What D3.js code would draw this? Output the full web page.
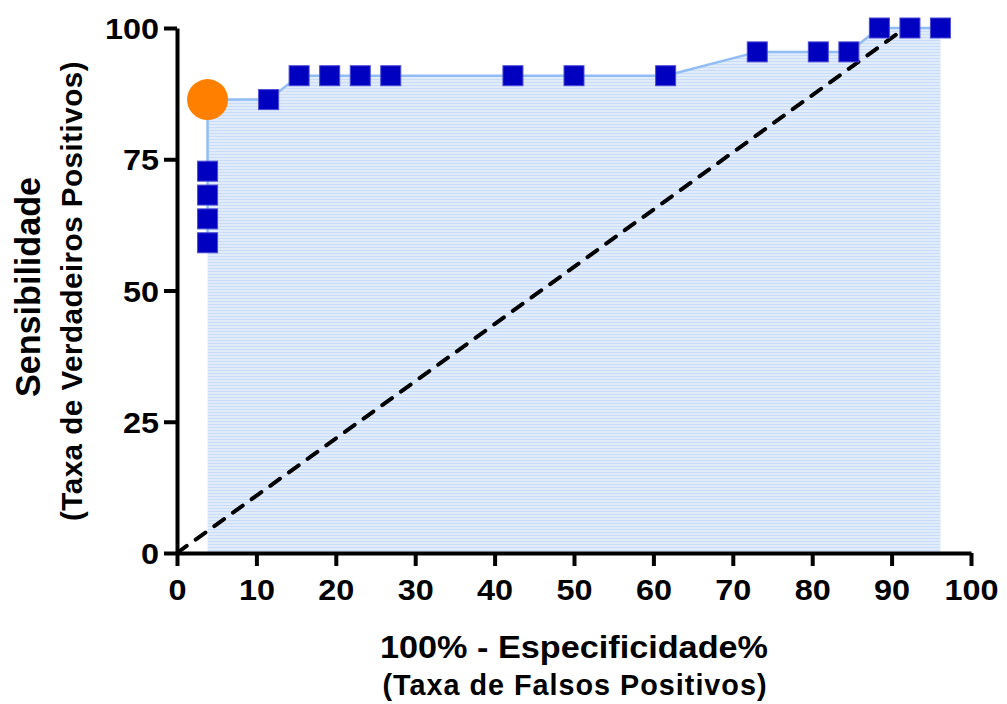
<!DOCTYPE html>
<html>
<head>
<meta charset="utf-8">
<script src="https://cdn.jsdelivr.net/npm/d3@7"></script>
<style>
  body { margin: 0; background: #fff; }
  text { font-family: "Liberation Sans", Arial, sans-serif; font-weight: bold; }
</style>
</head>
<body>
<div id="roc"></div>
<script>
// ROC points: 100% - specificity (x) and sensitivity (y)
var fpr = [3.85, 3.85, 3.85, 3.85, 3.85, 11.54, 15.38, 19.23, 23.08, 26.92, 42.31, 50, 61.54, 73.08, 80.77, 84.62, 88.46, 92.31, 96.15];
var tpr = [59.09, 63.64, 68.18, 72.73, 86.36, 86.36, 90.91, 90.91, 90.91, 90.91, 90.91, 90.91, 90.91, 95.45, 95.45, 95.45, 100, 100, 100];
var cutoffIndex = 4;   // highlighted point (orange)
var refLine = [[0, 0], [93.3, 101.7]];
var xTicks = [0, 10, 20, 30, 40, 50, 60, 70, 80, 90, 100];
var yTicks = [0, 25, 50, 75, 100];

var margin = { top: 28, right: 36, bottom: 151, left: 177 };
var width = 1007 - margin.left - margin.right;
var height = 704 - margin.top - margin.bottom;

var svg = d3.select("#roc")
    .append("svg")
        .attr("width", 1007)
        .attr("height", 704);

var defs = svg.append("defs");
var pat = defs.append("pattern")
    .attr("id", "stripes")
    .attr("patternUnits", "userSpaceOnUse")
    .attr("width", 8)
    .attr("height", 3);
pat.append("rect").attr("width", 8).attr("height", 3).attr("fill", "#e0ebfc");
pat.append("rect").attr("width", 8).attr("height", 1).attr("fill", "#cbdcf7");

var g = svg.append("g")
    .attr("transform", "translate(" + margin.left + "," + margin.top + ")");

var xScale = d3.scaleLinear().domain([0, 100]).range([0, width]);
var yScale = d3.scaleLinear().domain([0, 100]).range([height, 0]);

var dataset = [];
for (i = 0; i < fpr.length; i++) {
    dataset.push({ "x": fpr[i], "y": tpr[i] });
}

// area under curve
var area = d3.area()
    .x(function (d) { return xScale(d.x); })
    .y0(yScale(0))
    .y1(function (d) { return yScale(d.y); });

var areaData = [{ x: fpr[0], y: 0 }].concat(dataset);
g.append("path")
    .datum(areaData)
    .attr("d", area)
    .attr("fill", "url(#stripes)");

var line = d3.line()
    .x(function (d) { return xScale(d.x); })
    .y(function (d) { return yScale(d.y); });

g.append("path")
    .datum(dataset)
    .attr("d", line)
    .attr("fill", "none")
    .attr("stroke", "#90bdf5")
    .attr("stroke-width", 2.5);

// reference diagonal
g.append("path")
    .datum(refLine)
    .attr("d", d3.line().x(function (d) { return xScale(d[0]); }).y(function (d) { return yScale(d[1]); }))
    .attr("fill", "none")
    .attr("stroke", "#000")
    .attr("stroke-width", 4)
    .attr("stroke-linecap", "round")
    .attr("stroke-dasharray", "12,11");

// axes
var xAxis = g.append("g")
    .attr("transform", "translate(0," + height + ")")
    .call(d3.axisBottom(xScale).tickValues(xTicks).tickSize(13).tickPadding(13).tickSizeOuter(0));
var yAxis = g.append("g")
    .call(d3.axisLeft(yScale).tickValues(yTicks).tickSize(13).tickPadding(5).tickSizeOuter(0));

[xAxis, yAxis].forEach(function (a) {
    a.select(".domain").attr("stroke", "#000").attr("stroke-width", 4);
    a.selectAll(".tick line").attr("stroke", "#000").attr("stroke-width", 4);
    a.selectAll(".tick text")
        .attr("fill", "#000")
        .style("font-size", "30px")
        .style("font-family", "'Liberation Sans', Arial, sans-serif")
        .style("font-weight", "bold")
        .each(function () {
            var w = this.getComputedTextLength();
            d3.select(this).attr("textLength", w * 1.08).attr("lengthAdjust", "spacingAndGlyphs");
        });
});
yAxis.selectAll(".tick text").attr("dy", "0.35em");

// points
g.selectAll(".pt")
    .data(dataset.filter(function (d, i) { return i !== cutoffIndex; }))
    .enter()
    .append("rect")
        .attr("class", "pt")
        .attr("x", function (d) { return xScale(d.x) - 10; })
        .attr("y", function (d) { return yScale(d.y) - 10; })
        .attr("width", 20)
        .attr("height", 20)
        .attr("fill", "#0000c0")
        .attr("stroke", "#4a4ad6")
        .attr("stroke-width", 1);

g.append("circle")
    .attr("cx", xScale(dataset[cutoffIndex].x))
    .attr("cy", yScale(dataset[cutoffIndex].y))
    .attr("r", 20.5)
    .attr("fill", "#ff8000");

// axis titles
function title(sel, size, len, spacing) {
    return sel
        .attr("text-anchor", "middle")
        .style("font-size", size + "px")
        .style("letter-spacing", spacing + "px")
        .attr("textLength", len)
        .attr("lengthAdjust", "spacingAndGlyphs");
}

title(svg.append("text").attr("x", 574).attr("y", 658), 32, 388, 0)
    .text("100% - Especificidade%");
title(svg.append("text").attr("x", 575).attr("y", 695), 29, 385, 1)
    .text("(Taxa de Falsos Positivos)");

title(svg.append("text").attr("transform", "translate(40,287) rotate(-90)"), 35, 220, 0)
    .text("Sensibilidade");
title(svg.append("text").attr("transform", "translate(82,291) rotate(-90)"), 29, 460, 0.5)
    .text("(Taxa de Verdadeiros Positivos)");
</script>
</body>
</html>
